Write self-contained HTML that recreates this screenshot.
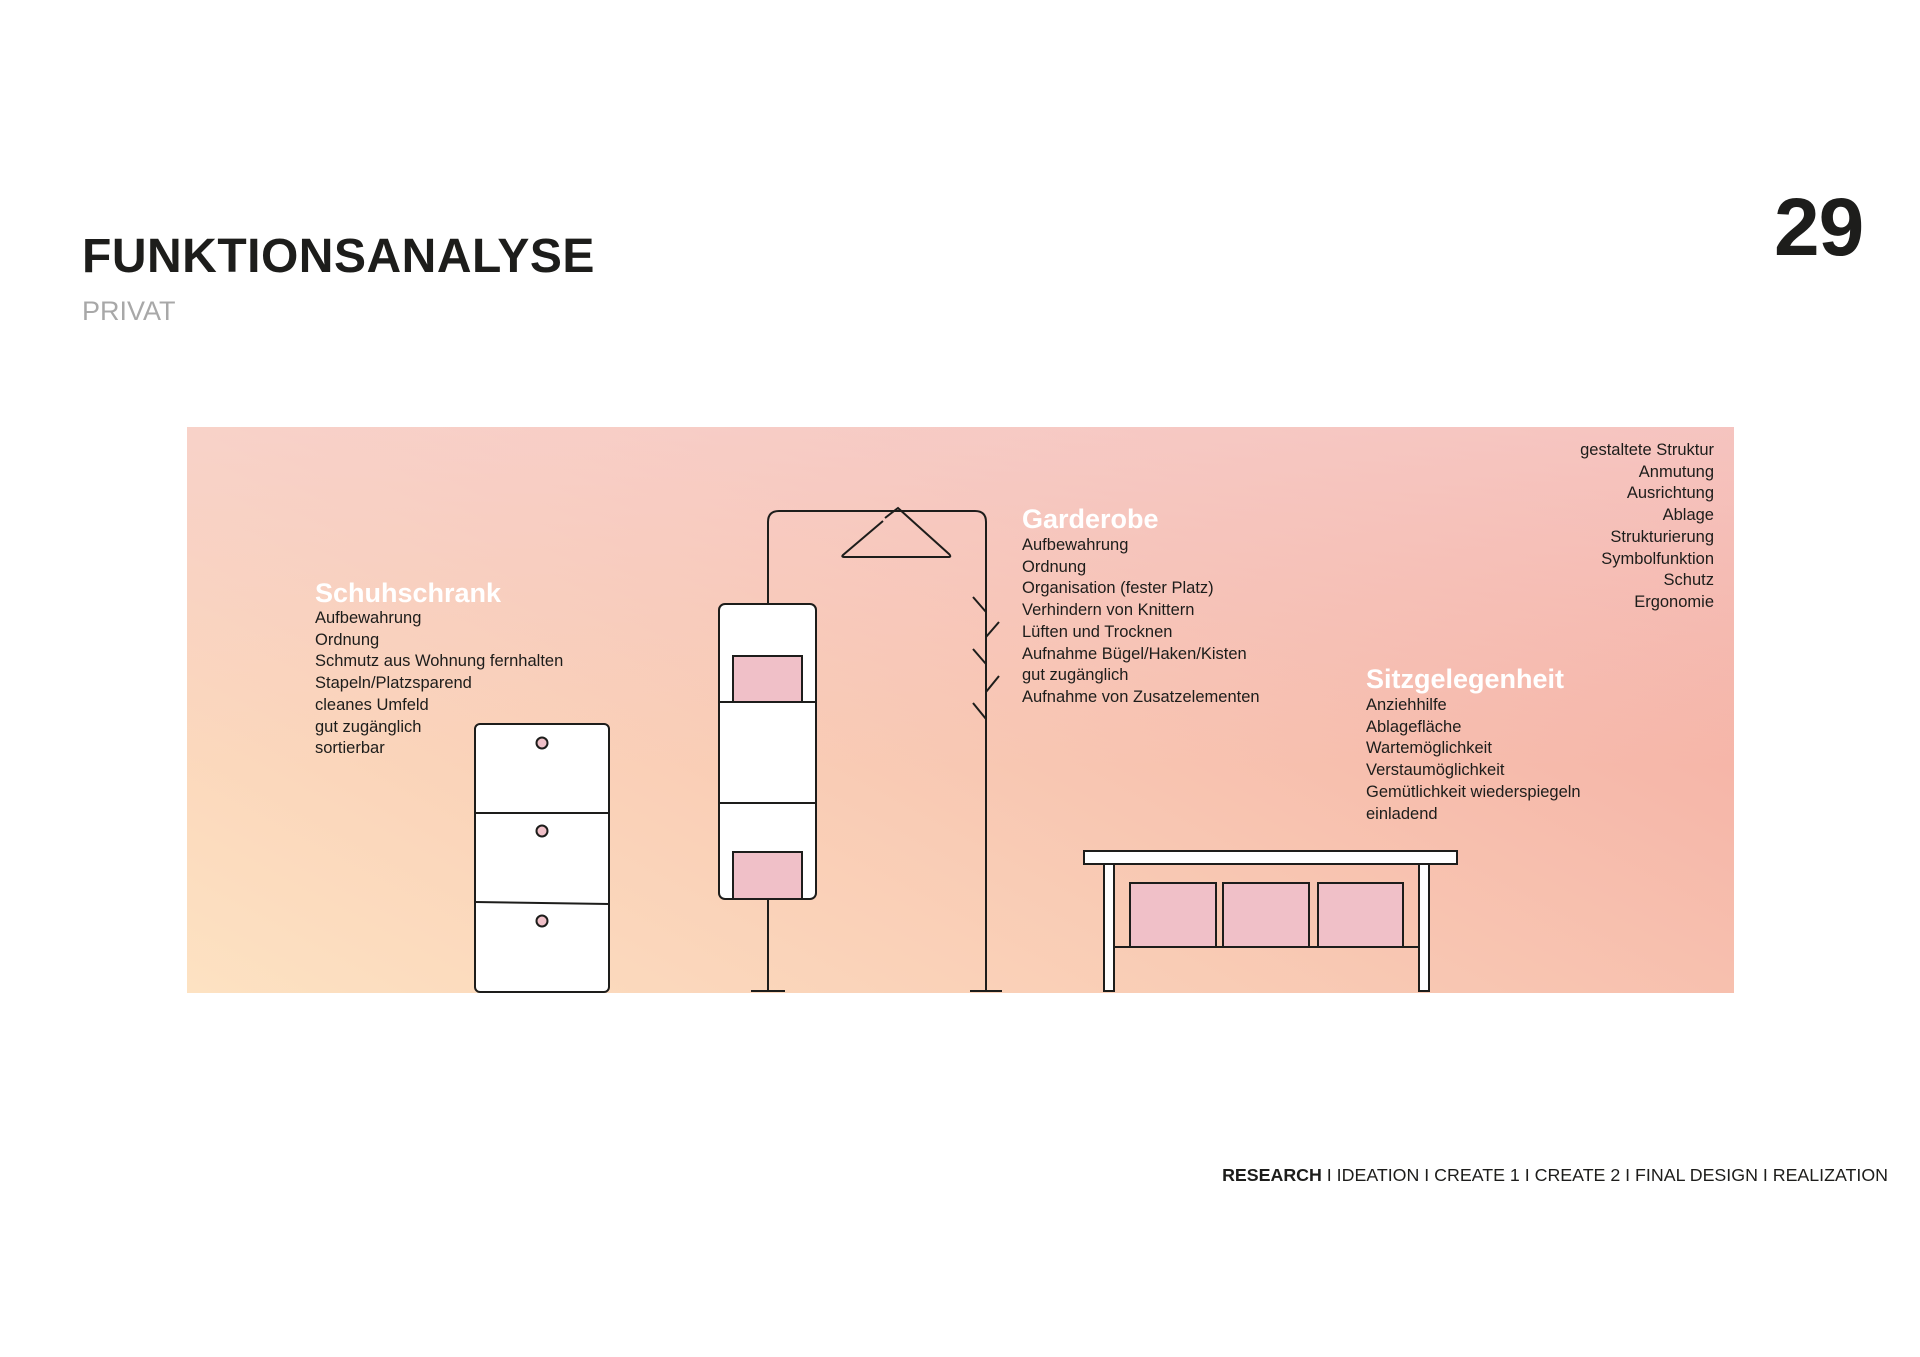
<!DOCTYPE html>
<html><head><meta charset="utf-8"><style>
body{margin:0;width:1920px;height:1357px;background:#fff;position:relative;overflow:hidden;font-family:"Liberation Sans",sans-serif;color:#1d1d1b}
.a{position:absolute;white-space:nowrap}
.h{color:#fff;font-weight:bold;font-size:27px}
.l{font-size:16.5px;line-height:21.7px}
</style></head><body>
<div class="a" style="left:82px;top:229px;font-size:48px;font-weight:900;letter-spacing:0.5px">FUNKTIONSANALYSE</div>
<div class="a" style="left:82px;top:296px;font-size:27px;color:#a8a8a8">PRIVAT</div>
<div class="a" style="left:1774px;top:181px;font-size:82px;font-weight:900;letter-spacing:-1px">29</div>
<div class="a" style="left:187px;top:427px;width:1547px;height:566px;background:linear-gradient(28deg,#fde2c2 0%,#f9ccb5 40%,#f6b8aa 72%,#f3a99e 100%)"></div>
<div class="a" style="left:187px;top:427px;width:1547px;height:566px;background:linear-gradient(180deg,rgba(247,214,214,0.6),rgba(247,214,214,0) 60%)"></div>
<svg class="a" style="left:0;top:0" width="1920" height="1357" fill="none" stroke="#1d1d1b" stroke-width="2">
<rect x="475" y="724" width="134" height="268" rx="5" fill="#fff"/>
<line x1="475" y1="813" x2="609" y2="813"/><line x1="475" y1="902" x2="609" y2="904"/>
<circle cx="542" cy="743" r="5.5" fill="#f0c0c8"/><circle cx="542" cy="831" r="5.5" fill="#f0c0c8"/><circle cx="542" cy="921" r="5.5" fill="#f0c0c8"/>
<path d="M768 604 V522 Q768 511 779 511 H975 Q986 511 986 522 V991"/>
<line x1="768" y1="899" x2="768" y2="991"/>
<line x1="751" y1="991" x2="785" y2="991"/><line x1="970" y1="991" x2="1002" y2="991"/>
<rect x="719" y="604" width="97" height="295" rx="6" fill="#fff"/>
<line x1="719" y1="702" x2="816" y2="702"/><line x1="719" y1="803" x2="816" y2="803"/>
<rect x="733" y="656" width="69" height="46" fill="#f0c0c8"/>
<rect x="733" y="852" width="69" height="47" fill="#f0c0c8"/>
<path d="M883 521 L843 555 Q841 557 845 557 H948 Q952 557 949 554 L898 508 L885 518"/>
<path d="M973 597 L986 612 M999 622 L986 637 M973 649 L986 664 M999 676 L986 692 M973 703 L986 719"/>
<rect x="1084" y="851" width="373" height="13" fill="#fff"/>
<rect x="1104" y="864" width="10" height="127" fill="#fff"/><rect x="1419" y="864" width="10" height="127" fill="#fff"/>
<line x1="1114" y1="947" x2="1419" y2="947"/>
<rect x="1130" y="883" width="86" height="64" fill="#f0c0c8"/>
<rect x="1223" y="883" width="86" height="64" fill="#f0c0c8"/>
<rect x="1318" y="883" width="85" height="64" fill="#f0c0c8"/>
</svg>
<div class="a h" style="left:315px;top:578px">Schuhschrank</div>
<div class="a l" style="left:315px;top:608px">Aufbewahrung<br>Ordnung<br>Schmutz aus Wohnung fernhalten<br>Stapeln/Platzsparend<br>cleanes Umfeld<br>gut zugänglich<br>sortierbar</div>
<div class="a h" style="left:1022px;top:504px">Garderobe</div>
<div class="a l" style="left:1022px;top:535px">Aufbewahrung<br>Ordnung<br>Organisation (fester Platz)<br>Verhindern von Knittern<br>Lüften und Trocknen<br>Aufnahme Bügel/Haken/Kisten<br>gut zugänglich<br>Aufnahme von Zusatzelementen</div>
<div class="a h" style="left:1366px;top:664px">Sitzgelegenheit</div>
<div class="a l" style="left:1366px;top:695px">Anziehhilfe<br>Ablagefläche<br>Wartemöglichkeit<br>Verstaumöglichkeit<br>Gemütlichkeit wiederspiegeln<br>einladend</div>
<div class="a l" style="right:206px;top:440px;text-align:right">gestaltete Struktur<br>Anmutung<br>Ausrichtung<br>Ablage<br>Strukturierung<br>Symbolfunktion<br>Schutz<br>Ergonomie</div>
<div class="a" style="right:32px;top:1165px;font-size:17.8px"><b>RESEARCH</b> I IDEATION I CREATE 1 I CREATE 2 I FINAL DESIGN I REALIZATION</div>
</body></html>
